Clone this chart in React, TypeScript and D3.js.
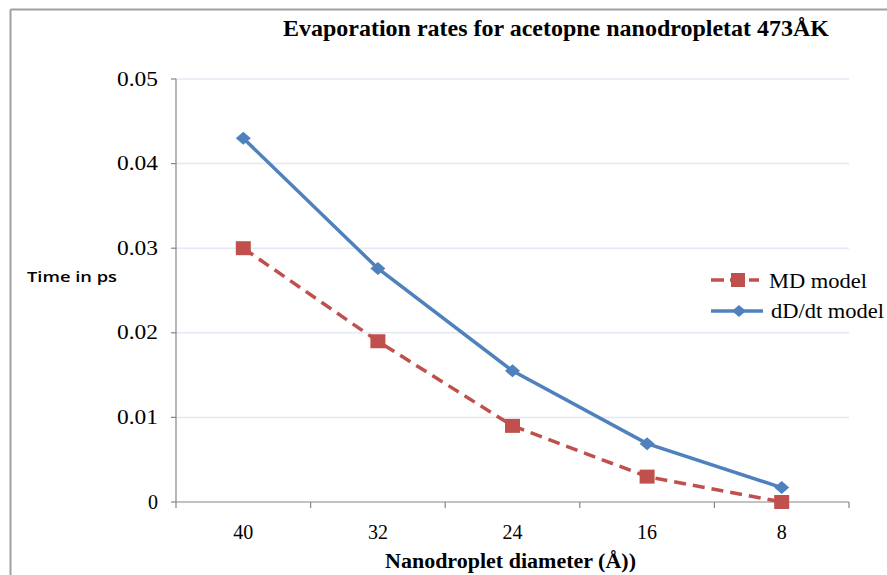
import React from "react";
import * as d3 from "d3";

const categories = ["40", "32", "24", "16", "8"];
const mdModel = [0.03, 0.019, 0.009, 0.003, 0.0];
const dDdtModel = [0.043, 0.0276, 0.0155, 0.0069, 0.0017];
const yTicks = [0, 0.01, 0.02, 0.03, 0.04, 0.05];
const yTickLabels = ["0", "0.01", "0.02", "0.03", "0.04", "0.05"];

const W = 887;
const H = 575;
const left = 176;
const right = 849;
const top = 79;
const bottom = 502;

export default function App() {
  const x = d3.scaleBand<string>().domain(categories).range([left, right]);
  const y = d3.scaleLinear().domain([0, 0.05]).range([bottom, top]);
  const cx = (c: string) => (x(c) as number) + x.bandwidth() / 2;
  const line = d3
    .line<number>()
    .x((_, i) => cx(categories[i]))
    .y((d) => y(d));
  const red = "#c0504d";
  const blue = "#4f81bd";
  const serif = "'Liberation Serif', 'Times New Roman', serif";
  const boundaries = [...categories.map((c) => x(c) as number), right];
  const diamond = (px: number, py: number, rx: number, ry: number) =>
    `M${px},${py - ry}L${px + rx},${py}L${px},${py + ry}L${px - rx},${py}Z`;

  return (
    <svg
      width={W}
      height={H}
      style={{ position: "absolute", left: 0, top: 0, background: "#fff" }}
    >
      {/* outer frame */}
      <line x1={10.5} y1={9.5} x2={W} y2={9.5} stroke="#a0a0a0" strokeWidth={2} />
      <line x1={10.5} y1={9.5} x2={10.5} y2={H} stroke="#a0a0a0" strokeWidth={2} />

      {/* gridlines */}
      {yTicks.slice(1).map((t) => (
        <line key={t} x1={left} x2={right} y1={y(t)} y2={y(t)} stroke="#e3e8f2" strokeWidth={1.5} />
      ))}

      {/* y axis */}
      <line x1={left} x2={left} y1={top} y2={bottom} stroke="#868686" strokeWidth={1.2} />
      {yTicks.map((t, i) => (
        <g key={t}>
          <line x1={left - 5} x2={left} y1={y(t)} y2={y(t)} stroke="#868686" strokeWidth={1.2} />
          <text
            x={158}
            y={y(t) + 6.5}
            textAnchor="end"
            fontFamily={serif}
            fontSize={20}
            fill="#000"
            {...(yTickLabels[i].length > 1 ? { textLength: 41, lengthAdjust: "spacingAndGlyphs" } : {})}
          >
            {yTickLabels[i]}
          </text>
        </g>
      ))}

      {/* x axis */}
      <line x1={left} x2={right} y1={bottom} y2={bottom} stroke="#868686" strokeWidth={1.2} />
      {boundaries.map((b, i) => (
        <line key={i} x1={b} x2={b} y1={bottom} y2={bottom + 6} stroke="#868686" strokeWidth={1.2} />
      ))}
      {categories.map((c) => (
        <text key={c} x={cx(c)} y={539} textAnchor="middle" fontFamily={serif} fontSize={20} fill="#000">
          {c}
        </text>
      ))}

      {/* series */}
      <path d={line(mdModel) as string} fill="none" stroke={red} strokeWidth={3.5} strokeDasharray="12,7" />
      {mdModel.map((v, i) => (
        <rect key={i} x={cx(categories[i]) - 7.5} y={y(v) - 7} width={15} height={14} fill={red} />
      ))}
      <path d={line(dDdtModel) as string} fill="none" stroke={blue} strokeWidth={3.5} />
      {dDdtModel.map((v, i) => (
        <path key={i} d={diamond(cx(categories[i]), y(v), 7.5, 6.5)} fill={blue} />
      ))}

      {/* title */}
      <text
        x={283}
        y={36}
        fontFamily={serif}
        fontWeight="bold"
        fontSize={23}
        fill="#000"
        textLength={546}
        lengthAdjust="spacingAndGlyphs"
      >
        Evaporation rates for acetopne nanodropletat 473ÅK
      </text>

      {/* axis titles */}
      <text
        x={385}
        y={568}
        fontFamily={serif}
        fontWeight="bold"
        fontSize={20}
        fill="#000"
        textLength={251}
        lengthAdjust="spacingAndGlyphs"
      >
        Nanodroplet diameter (Å))
      </text>
      <text
        x={27}
        y={282}
        fontFamily="'Open Sans', 'DejaVu Sans', sans-serif"
        fontWeight="600"
        fontSize={14}
        fill="#000"
        textLength={90}
        lengthAdjust="spacingAndGlyphs"
      >
        Time in ps
      </text>

      {/* legend */}
      <line x1={711} x2={759} y1={280} y2={280} stroke={red} strokeWidth={3.5} strokeDasharray="13,6" />
      <rect x={731} y={273} width={14} height={14} fill={red} />
      <text x={769} y={288} fontFamily={serif} fontSize={20} fill="#000" textLength={98} lengthAdjust="spacingAndGlyphs">
        MD model
      </text>
      <line x1={711} x2={763} y1={311} y2={311} stroke={blue} strokeWidth={3.5} />
      <path d={diamond(739, 311, 7, 6)} fill={blue} />
      <text x={771} y={318} fontFamily={serif} fontSize={20} fill="#000" textLength={113} lengthAdjust="spacingAndGlyphs">
        dD/dt model
      </text>
    </svg>
  );
}
